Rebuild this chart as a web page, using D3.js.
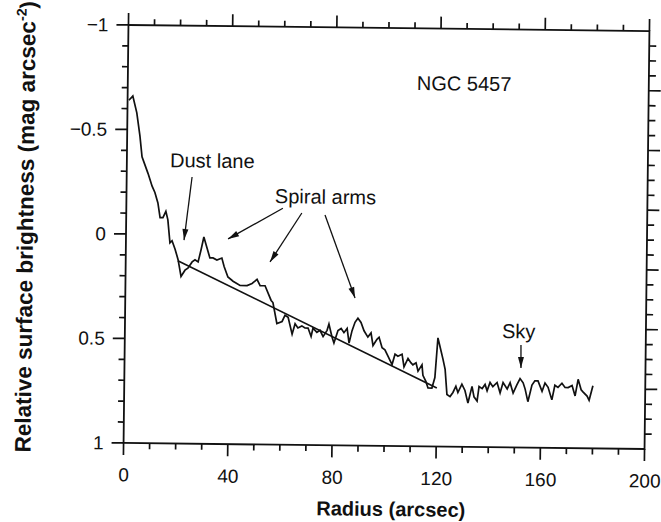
<!DOCTYPE html>
<html>
<head>
<meta charset="utf-8">
<script src="https://cdn.jsdelivr.net/npm/d3@7"></script>
<style>
  body { margin: 0; background: #fff; }
  text { font-family: "Liberation Sans", Arial, Helvetica, sans-serif; fill: #111; }
</style>
</head>
<body>
<div id="my_dataviz"></div>
<script>
// radius (arcsec) and relative surface brightness
var radius = [
  0.5, 2, 3.6, 4.9, 5.8, 6.7, 8.2, 9.8, 10.9, 12.1,
  13.0, 14.1, 15.2, 16.0, 16.9, 17.7, 18.9, 20.1, 21.3, 22.8,
  23.9, 25.5, 26.6, 27.8, 28.9, 29.9, 31.1, 32.3, 33.5, 35.0,
  36.9, 37.8, 39.3, 41.3, 44.0, 46.7, 48.6, 50.5, 51.7, 53.6,
  56.0, 56.7, 58.3, 60.3, 61.4, 62.6, 64.2, 65.3, 66.4, 67.9,
  69.1, 70.3, 71.5, 72.2, 73.7, 74.9, 76.1, 77.6, 78.3, 79.5,
  80.3, 81.8, 83.0, 84.1, 85.3, 86.1, 87.2, 88.3, 89.4, 90.6,
  91.8, 93.3, 94.5, 95.3, 96.8, 97.6, 98.8, 99.9, 101.1, 102.7,
  103.8, 104.9, 106.5, 107.3, 108.8, 109.9, 110.7, 111.9, 112.7, 114.2,
  114.6, 115.8, 116.6, 118.1, 119.2, 120.2, 121.0, 122.2, 123.1, 123.9,
  125.1, 126.2, 127.3, 128.1, 129.6, 130.8, 132.0, 133.5, 134.3, 135.5,
  136.2, 137.4, 138.5, 139.3, 140.4, 141.5, 143.1, 144.3, 145.4, 147.0,
  148.1, 149.3, 150.7, 151.9, 153.1, 153.9, 155.0, 156.5, 157.6, 158.8,
  160.4, 161.5, 162.7, 164.2, 165.3, 166.5, 168.0, 169.2, 170.4, 171.9,
  173.1, 174.2, 175.4, 176.1, 177.7, 178.5, 179.9
];
var brightness = [
  -0.64, -0.66, -0.58, -0.47, -0.37, -0.34, -0.29, -0.23, -0.20, -0.15,
  -0.08, -0.08, -0.11, -0.07, 0.04, 0.03, 0.07, 0.12, 0.20, 0.17,
  0.16, 0.13, 0.12, 0.13, 0.07, 0.01, 0.06, 0.11, 0.11, 0.12,
  0.11, 0.15, 0.20, 0.22, 0.24, 0.24, 0.23, 0.21, 0.24, 0.24,
  0.31, 0.32, 0.42, 0.41, 0.38, 0.39, 0.47, 0.42, 0.44, 0.43,
  0.44, 0.44, 0.48, 0.44, 0.46, 0.45, 0.48, 0.45, 0.42, 0.48,
  0.51, 0.45, 0.44, 0.46, 0.44, 0.51, 0.45, 0.41, 0.39, 0.41,
  0.45, 0.48, 0.46, 0.52, 0.49, 0.48, 0.53, 0.54, 0.57, 0.61,
  0.56, 0.57, 0.56, 0.62, 0.58, 0.60, 0.61, 0.60, 0.64, 0.61,
  0.66, 0.69, 0.72, 0.72, 0.67, 0.48, 0.52, 0.58, 0.63, 0.75,
  0.76, 0.74, 0.71, 0.74, 0.70, 0.73, 0.79, 0.71, 0.76, 0.78,
  0.71, 0.72, 0.70, 0.73, 0.69, 0.71, 0.69, 0.74, 0.69, 0.72,
  0.69, 0.74, 0.70, 0.67, 0.69, 0.72, 0.78, 0.70, 0.68, 0.68,
  0.73, 0.69, 0.71, 0.77, 0.70, 0.71, 0.69, 0.71, 0.71, 0.70,
  0.75, 0.67, 0.72, 0.73, 0.75, 0.77, 0.70
];

// straight-line (exponential disk) fit
var fitRadius = [20, 120];
var fitBrightness = [0.125, 0.72];

// tick values
var xMajor = [0, 40, 80, 120, 160, 200];
var xMinor = [10, 20, 30, 50, 60, 70, 90, 100, 110, 130, 140, 150, 170, 180, 190];
var yMajor = [-1, -0.5, 0, 0.5, 1];
var yMinor = [-0.9, -0.8, -0.7, -0.6, -0.4, -0.3, -0.2, -0.1, 0.1, 0.2, 0.3, 0.4, 0.6, 0.7, 0.8, 0.9];
var rightMajor = [1, 2, 3, 4, 5, 6];
var rightMinor = d3.range(1, 28).map(function(d) { return d / 4; }).filter(function(d) { return d % 1 != 0; });

// annotations: [label, x, y] and arrows [x1, y1, x2, y2] in data units
var labels = [
  ["NGC 5457", 111, -0.705],
  ["Dust lane", 16.6, -0.322],
  ["Spiral arms", 57, -0.156],
  ["Sky", 144.8, 0.477]
];
var arrows = [
  [25.1, -0.276, 22.3, 0.026],
  [60.1, -0.132, 39.2, 0.018],
  [67.4, -0.110, 55.4, 0.126],
  [76.3, -0.102, 88.2, 0.294],
  [152.1, 0.509, 152.2, 0.619]
];

var margin = {top: 28, left: 126},
    width = 521,
    height = 418;

var svgRoot = d3.select("#my_dataviz")
  .append("svg")
    .attr("width", 661)
    .attr("height", 522);

svgRoot.append("rect").attr("width", 661).attr("height", 522).attr("fill", "#fff");

// the scanned figure sits slightly rotated on the page
var page = svgRoot.append("g")
    .attr("transform", "rotate(0.67, 386.5, 237)");

var svg = page.append("g")
    .attr("transform", "translate(" + margin.left + "," + margin.top + ")");

var x = d3.scaleLinear().domain([0, 200]).range([0, width]);
var y = d3.scaleLinear().domain([-1, 1]).range([0, height]);
var yRight = d3.scaleLinear().domain([0, 7]).range([0, height]);

function fmtY(d) {
  if (d === 0) return "0";
  return (d < 0 ? "\u2212" : "") + Math.abs(d);
}

// ticks, all pointing outward, built into one path
var tp = d3.path();
xMajor.forEach(function(d) {
  tp.moveTo(x(d), height); tp.lineTo(x(d), height + 12);
  tp.moveTo(x(d), 0); tp.lineTo(x(d), -12);
});
xMinor.forEach(function(d) {
  tp.moveTo(x(d), height); tp.lineTo(x(d), height + 6);
  tp.moveTo(x(d), 0); tp.lineTo(x(d), -6);
});
yMajor.forEach(function(d) {
  tp.moveTo(0, y(d)); tp.lineTo(-12, y(d));
});
yMinor.forEach(function(d) {
  tp.moveTo(0, y(d)); tp.lineTo(-6, y(d));
});
rightMajor.forEach(function(d) {
  tp.moveTo(width, yRight(d)); tp.lineTo(width + 12, yRight(d));
});
rightMinor.forEach(function(d) {
  tp.moveTo(width, yRight(d)); tp.lineTo(width + 7, yRight(d));
});
svg.append("path")
  .attr("d", tp.toString())
  .attr("fill", "none")
  .attr("stroke", "#111")
  .attr("stroke-width", 1.7);

// frame
svg.append("rect")
  .attr("width", width).attr("height", height)
  .attr("fill", "none")
  .attr("stroke", "#111")
  .attr("stroke-width", 1.8);

// tick labels through d3 axes
var xLab = svg.append("g").attr("transform", "translate(0," + height + ")")
  .call(d3.axisBottom(x).tickValues(xMajor).tickSize(0).tickPadding(25));
var yLab = svg.append("g")
  .call(d3.axisLeft(y).tickValues(yMajor).tickSize(0).tickPadding(20).tickFormat(fmtY));
xLab.select(".domain").remove();
yLab.select(".domain").remove();
xLab.selectAll("text").style("font-size", "19px").attr("fill", "#111");
yLab.selectAll("text").style("font-size", "19px").attr("fill", "#111");

// profile
svg.append("path")
  .datum(d3.zip(radius, brightness))
  .attr("fill", "none")
  .attr("stroke", "#111")
  .attr("stroke-width", 1.7)
  .attr("d", d3.line()
    .x(function(d) { return x(d[0]); })
    .y(function(d) { return y(d[1]); }));

// fit line
svg.append("path")
  .datum(d3.zip(fitRadius, fitBrightness))
  .attr("fill", "none")
  .attr("stroke", "#111")
  .attr("stroke-width", 1.6)
  .attr("d", d3.line()
    .x(function(d) { return x(d[0]); })
    .y(function(d) { return y(d[1]); }));

// annotation arrows: line plus a small filled head
svg.selectAll(".arrow")
  .data(arrows)
  .enter().append("line")
    .attr("class", "arrow")
    .attr("x1", function(d) { return x(d[0]); })
    .attr("y1", function(d) { return y(d[1]); })
    .attr("x2", function(d) { return x(d[2]); })
    .attr("y2", function(d) { return y(d[3]); })
    .attr("stroke", "#111")
    .attr("stroke-width", 1.3);

svg.selectAll(".head")
  .data(arrows)
  .enter().append("path")
    .attr("class", "head")
    .attr("d", "M-11,-3 L0,0 L-11,3 Z")
    .attr("fill", "#111")
    .attr("transform", function(d) {
      var a = Math.atan2(y(d[3]) - y(d[1]), x(d[2]) - x(d[0])) * 180 / Math.PI;
      return "translate(" + x(d[2]) + "," + y(d[3]) + ") rotate(" + a + ")";
    });

svg.selectAll(".note")
  .data(labels)
  .enter().append("text")
    .attr("class", "note")
    .attr("x", function(d) { return x(d[1]); })
    .attr("y", function(d) { return y(d[2]); })
    .style("font-size", "20px")
    .text(function(d) { return d[0]; });

// axis titles
page.append("text")
  .attr("x", 394)
  .attr("y", 516)
  .attr("text-anchor", "middle")
  .style("font-size", "20px")
  .style("font-weight", "bold")
  .text("Radius (arcsec)");

var yt = page.append("text")
  .attr("transform", "translate(33,231) rotate(-90)")
  .attr("text-anchor", "middle")
  .style("font-size", "22.5px")
  .style("font-weight", "bold");
yt.append("tspan").text("Relative surface brightness (mag arcsec");
yt.append("tspan").attr("dy", -9).style("font-size", "14px").text("-2");
yt.append("tspan").attr("dy", 9).text(")");
</script>
</body>
</html>
